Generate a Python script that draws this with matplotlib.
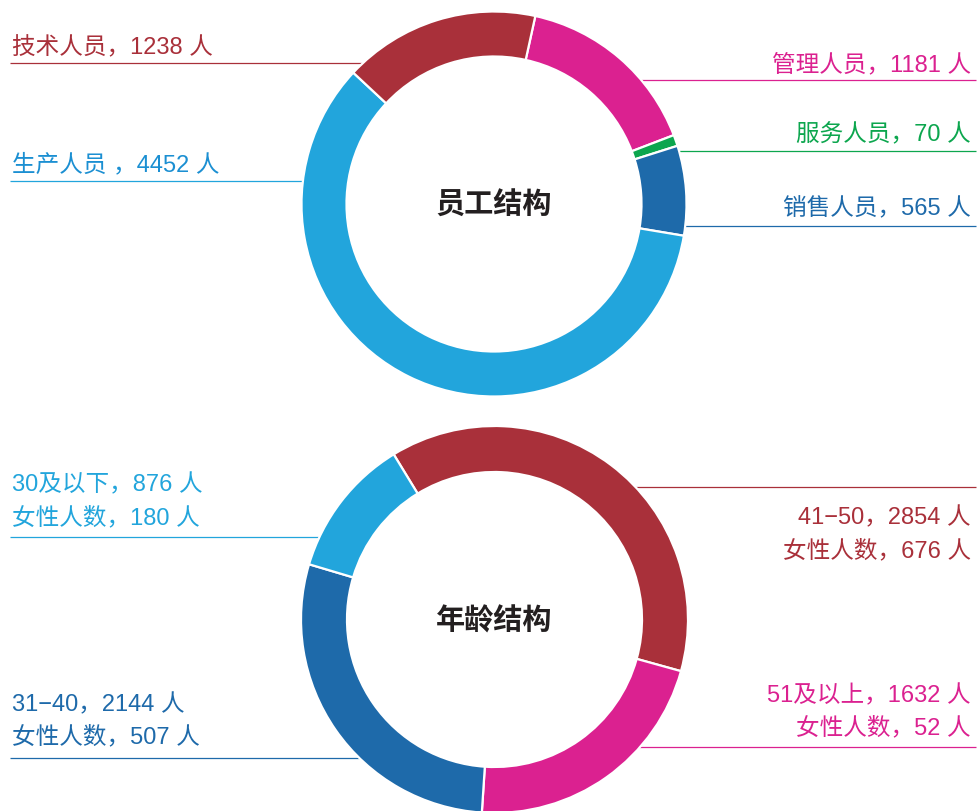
import matplotlib
matplotlib.use("Agg")
import matplotlib.pyplot as plt
import numpy as np

plt.rcParams['font.family'] = ['Liberation Sans', 'Noto Sans CJK SC', 'DejaVu Sans']

# ---------------- data ----------------
staff_names = ["管理人员", "服务人员", "销售人员", "生产人员", "技术人员"]
staff_values = [1181, 70, 565, 4452, 1238]
staff_labels = ["管理人员，1181 人", "服务人员，70 人", "销售人员，565 人",
                "生产人员 ，4452 人", "技术人员，1238 人"]
staff_title = "员工结构"

age_names = ["41-50", "51及以上", "31-40", "30及以下"]
age_values = [2854, 1632, 2144, 876]
age_female = [676, 52, 507, 180]
age_labels = ["41−50，2854 人", "51及以上，1632 人", "31−40，2144 人", "30及以下，876 人"]
age_female_labels = ["女性人数，676 人", "女性人数，52 人", "女性人数，507 人", "女性人数，180 人"]
age_title = "年龄结构"

# ---------------- style / layout ----------------
RED = "#a9303a"
MAG = "#db2190"
GREEN = "#0ca64e"
DBLUE = "#1e6aaa"
LBLUE = "#22a5dc"
staff_colors = [MAG, GREEN, DBLUE, LBLUE, RED]
staff_text_colors = [MAG, GREEN, DBLUE, "#1b8fd2", RED]
age_colors = [RED, MAG, DBLUE, LBLUE]

W, H = 979, 812
fig = plt.figure(figsize=(W / 100, H / 100), dpi=100)
ax = fig.add_axes([0, 0, 1, 1])


def Y(y):
    return H - y


R_OUT, RING = 192.5, 45

# donut 1
c1 = (494.0, 205.0)
ax.pie(staff_values, colors=staff_colors, startangle=77.6, counterclock=False,
       center=(c1[0], Y(c1[1])), radius=R_OUT,
       wedgeprops=dict(width=RING, edgecolor="white", linewidth=1.6))
# donut 2
c2 = (494.5, 620.5)
ax.pie(age_values, colors=age_colors, startangle=121.4, counterclock=False,
       center=(c2[0], Y(c2[1])), radius=R_OUT + 1,
       wedgeprops=dict(width=RING + 1, edgecolor="white", linewidth=1.6))

TITLE_FONT = ["Noto Sans CJK SC", "DejaVu Sans"]
ax.text(c1[0], Y(205), staff_title, ha="center", va="center", fontsize=21,
        fontweight="bold", color="#231f20", family=TITLE_FONT)
ax.text(c2[0], Y(621), age_title, ha="center", va="center", fontsize=21,
        fontweight="bold", color="#231f20", family=TITLE_FONT)

FS = 17
LEFT_X, RIGHT_X = 12, 971
LINE_L, LINE_R = 10, 976


def leader(side, y, center, r, color):
    dy = y - center[1]
    dx = np.sqrt(max(r * r - dy * dy, 0))
    if side == "left":
        xs = [LINE_L, center[0] - dx + 3]
    else:
        xs = [center[0] + dx - 3, LINE_R]
    ax.plot(xs, [Y(y), Y(y)], color=color, lw=0.9, zorder=0.5,
            solid_capstyle="butt")


# staff labels: (side, text baseline, line y)
staff_layout = [("right", 71, 81), ("right", 141, 152), ("right", 215, 227),
                ("left", 171, 182), ("left", 54, 64)]
for lab, col, tcol, (side, by, ly) in zip(staff_labels, staff_colors,
                                          staff_text_colors, staff_layout):
    x = LEFT_X if side == "left" else RIGHT_X
    ax.text(x, Y(by), lab, ha=side, va="baseline", fontsize=FS, color=tcol)
    leader(side, ly, c1, R_OUT, col)

# age labels: (side, baseline1, baseline2, line y)
age_layout = [("right", 524, 557, 488), ("right", 702, 734, 748),
              ("left", 711, 743, 759), ("left", 491, 524, 538)]
for lab, flab, col, (side, b1, b2, ly) in zip(age_labels, age_female_labels,
                                              age_colors, age_layout):
    x = LEFT_X if side == "left" else RIGHT_X
    ax.text(x, Y(b1), lab, ha=side, va="baseline", fontsize=FS, color=col)
    ax.text(x, Y(b2), flab, ha=side, va="baseline", fontsize=FS, color=col)
    leader(side, ly, c2, R_OUT + 1, col)

ax.set_xlim(0, W)
ax.set_ylim(0, H)
ax.set_aspect("auto")
ax.axis("off")
fig.savefig("out.png", dpi=100, facecolor="white")
